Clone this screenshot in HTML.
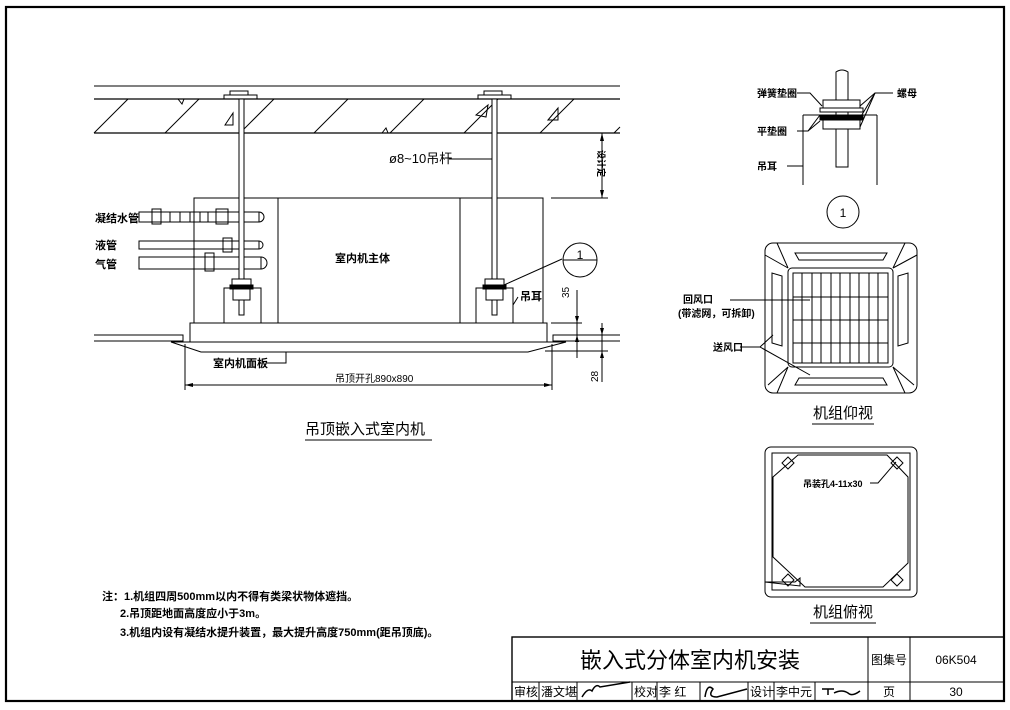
<!DOCTYPE html>
<html><head><meta charset="utf-8"><style>
html,body{margin:0;padding:0;background:#fff}
svg{display:block}
text{font-family:"Liberation Sans","Noto Sans CJK SC","WenQuanYi Zen Hei",sans-serif;fill:#000}
</style></head><body>
<svg width="1010" height="710" viewBox="0 0 1010 710" xmlns="http://www.w3.org/2000/svg">
<g fill="none" stroke="#000" stroke-width="1">
<rect x="6" y="7" width="998" height="694" stroke-width="2.2"/>
<!-- title block -->
<rect x="512" y="637" width="492" height="64" stroke-width="1.4"/>
<line x1="512" y1="682" x2="1004" y2="682"/>
<line x1="868" y1="637" x2="868" y2="701"/>
<line x1="910" y1="637" x2="910" y2="701"/>
<line x1="539" y1="682" x2="539" y2="701"/>
<line x1="577" y1="682" x2="577" y2="701"/>
<line x1="632" y1="682" x2="632" y2="701"/>
<line x1="657" y1="682" x2="657" y2="701"/>
<line x1="700" y1="682" x2="700" y2="701"/>
<line x1="748" y1="682" x2="748" y2="701"/>
<line x1="774" y1="682" x2="774" y2="701"/>
<line x1="815" y1="682" x2="815" y2="701"/>
<path d="M582 697 q6-10 10-6 q4-8 8-4 l30-5" stroke-width="1.5"/>
<path d="M705 697 q2-14 8-8 q-6 8 4 8 l30-8" stroke-width="1.5"/>
<path d="M822 689 h12 m-6 0 v6 m6-2 q8-4 14 0 q4 4 12-2" stroke-width="1.5"/>

<!-- slab -->
<line x1="94" y1="86" x2="620" y2="86"/>
<line x1="94" y1="99" x2="620" y2="99" stroke-width="1.3"/>
<line x1="94" y1="133" x2="620" y2="133" stroke-width="1.3"/>
<g>
<line x1="94" y1="133" x2="128" y2="99"/><line x1="165" y1="133" x2="199" y2="99"/>
<line x1="240" y1="133" x2="274" y2="99"/><line x1="314" y1="133" x2="348" y2="99"/>
<line x1="390" y1="133" x2="424" y2="99"/><line x1="464" y1="133" x2="498" y2="99"/>
<line x1="540" y1="133" x2="574" y2="99"/><line x1="614" y1="133" x2="620" y2="127"/>
<path d="M225 125 l8-12 v12z"/><path d="M476 115 l12-10 -2 12z"/><path d="M548 120 l10-12 v12z"/>
<path d="M178 99 l4 5 2-5"/><path d="M382 133 l4-5 2 5"/>
</g>
<rect x="224" y="95" width="33" height="4"/><rect x="230" y="91" width="18" height="4"/>
<rect x="478" y="95" width="33" height="4"/><rect x="484" y="91" width="18" height="4"/>
<!-- housing -->
<rect x="194" y="198" width="349" height="125"/>
<rect x="278" y="198" width="182" height="125"/>
<rect x="190" y="323" width="357" height="19"/>
<!-- ceiling -->
<polyline points="94,335 183,335 183,341 94,341"/>
<polyline points="620,335 553,335 553,341 620,341"/>
<polygon points="171,342 566,342 528,352 201,352"/>
<!-- pipes -->
<rect x="139" y="212" width="120" height="10"/>
<path d="M259 212 a5 5 0 0 1 0 10"/>
<rect x="152" y="209" width="9" height="15"/><rect x="216" y="209" width="12" height="15"/>
<line x1="170" y1="212" x2="170" y2="222"/><line x1="180" y1="212" x2="180" y2="222"/><line x1="190" y1="212" x2="190" y2="222"/><line x1="200" y1="212" x2="200" y2="222"/><line x1="208" y1="212" x2="208" y2="222"/>
<rect x="139" y="241" width="120" height="8"/><path d="M259 241 a4 4 0 0 1 0 8"/>
<rect x="223" y="238" width="9" height="14"/>
<rect x="139" y="257" width="122" height="12"/><path d="M261 257 a6 6 0 0 1 0 12"/>
<rect x="205" y="253" width="9" height="18"/>
<!-- rods -->
<rect x="239" y="99" width="5" height="216" fill="#fff"/>
<rect x="492" y="99" width="5" height="216" fill="#fff"/>
<!-- brackets -->
<rect x="224" y="288" width="37" height="35"/><rect x="476" y="288" width="37" height="35"/>
<g fill="#fff">
<rect x="232" y="279" width="19" height="6"/><rect x="230" y="285" width="23" height="4" fill="#000"/><rect x="233" y="289" width="17" height="11"/>
<rect x="485" y="279" width="19" height="6"/><rect x="483" y="285" width="23" height="4" fill="#000"/><rect x="486" y="289" width="17" height="11"/>
</g>
<!-- leaders/dims -->
<line x1="449" y1="159" x2="492" y2="159"/>
<circle cx="580" cy="260" r="17"/><line x1="563" y1="260" x2="597" y2="260"/>
<line x1="562" y1="259" x2="504" y2="285"/>
<polyline points="518,297 513,305 513,315"/>
<polyline points="286,352 286,363 267,363"/>
<line x1="185" y1="344" x2="185" y2="390"/><line x1="552" y1="344" x2="552" y2="390"/>
<line x1="185" y1="385" x2="552" y2="385"/>
<line x1="602" y1="133" x2="602" y2="198"/><line x1="551" y1="198" x2="608" y2="198"/>
<line x1="577" y1="290" x2="577" y2="358"/><line x1="551" y1="323" x2="582" y2="323"/>
<line x1="602" y1="323" x2="602" y2="382"/><line x1="545" y1="351" x2="608" y2="351"/>
<line x1="582" y1="335" x2="608" y2="335"/>
</g>
<g fill="#000">
<path d="M185 385 l8-2 v4z"/><path d="M552 385 l-8-2 v4z"/>
<path d="M602 133 l-2 8 h4z"/><path d="M602 198 l-2-8 h4z"/>
<path d="M577 323 l-2-7 h4z"/><path d="M577 335 l-2 7 h4z"/>
<path d="M602 335 l-2-7 h4z"/><path d="M602 351 l-2 7 h4z"/>
</g>
<g font-size="11" font-weight="bold">
<text x="389" y="163" font-size="13" font-weight="normal">ø8~10吊杆</text>
<text x="95" y="222">凝结水管</text>
<text x="95" y="249">液管</text>
<text x="95" y="268">气管</text>
<text x="335" y="262">室内机主体</text>
<text x="520" y="300">吊耳</text>
<text x="213" y="367">室内机面板</text>
<text x="335" y="382" font-size="10" font-weight="normal">吊顶开孔890x890</text>
<text x="580" y="259" font-size="12" font-weight="normal" text-anchor="middle">1</text>
<text x="0" y="0" font-size="9" transform="translate(598,150) rotate(90)">设计定</text>
<text x="0" y="0" font-size="10" font-weight="normal" transform="translate(569,298) rotate(-90)">35</text>
<text x="0" y="0" font-size="10" font-weight="normal" transform="translate(598,382) rotate(-90)">28</text>
</g>
<text x="305" y="434" font-size="15">吊顶嵌入式室内机</text>
<line x1="305" y1="440" x2="432" y2="440" stroke="#000"/>
<!-- notes -->
<g font-size="11" font-weight="bold">
<text x="102" y="600">注：1.机组四周500mm以内不得有类梁状物体遮挡。</text>
<text x="120" y="617">2.吊顶距地面高度应小于3m。</text>
<text x="120" y="636">3.机组内设有凝结水提升装置，最大提升高度750mm(距吊顶底)。</text>
</g>
<!-- title block text -->
<text x="690" y="668" font-size="22" text-anchor="middle">嵌入式分体室内机安装</text>
<text x="889" y="664" font-size="12" text-anchor="middle" font-family="Liberation Serif,Noto Serif CJK SC,serif">图集号</text>
<text x="956" y="664" font-size="12" text-anchor="middle" font-family="Liberation Serif,serif">06K504</text>
<g font-size="12" font-family="Liberation Serif,Noto Serif CJK SC,serif">
<text x="514" y="696">审核</text><text x="541" y="696">潘文堪</text>
<text x="634" y="696">校对</text><text x="659" y="696">李  红</text>
<text x="750" y="696">设计</text><text x="776" y="696">李中元</text>
<text x="889" y="696" text-anchor="middle">页</text>
<text x="956" y="696" text-anchor="middle">30</text>
</g>
<!-- detail 1 -->
<g fill="none" stroke="#000">
<path d="M836 167 v-95 q6-4 12 0 v95 z" fill="#fff"/>
<line x1="803" y1="115" x2="803" y2="185"/><line x1="877" y1="115" x2="877" y2="185"/>
<line x1="803" y1="115" x2="877" y2="115"/>
<rect x="823" y="100" width="37" height="8" fill="#fff"/>
<rect x="820" y="108" width="43" height="4" fill="#fff"/>
<rect x="820" y="116" width="43" height="4" fill="#000"/>
<rect x="823" y="120" width="37" height="9" fill="#fff"/>
<polyline points="797,93 810,93 822,106"/>
<polyline points="797,131 808,131 820,115"/><line x1="808" y1="131" x2="820" y2="121"/>
<polyline points="893,93 875,93 860,106"/><line x1="875" y1="93" x2="860" y2="118"/><line x1="875" y1="93" x2="860" y2="127"/>
<line x1="787" y1="166" x2="803" y2="166"/>
<circle cx="843" cy="212" r="16"/>
<!-- bottom view -->
<rect x="765" y="243" width="152" height="150" rx="8"/>
<rect x="788" y="268" width="105" height="99" rx="4"/>
<rect x="793" y="273" width="95" height="90"/>
<line x1="765" y1="255" x2="788" y2="268"/><line x1="917" y1="255" x2="893" y2="268"/>
<line x1="768" y1="385" x2="788" y2="367"/><line x1="914" y1="385" x2="893" y2="367"/>
<line x1="777" y1="243" x2="788" y2="268"/><line x1="905" y1="243" x2="893" y2="268"/>
<line x1="777" y1="393" x2="788" y2="367"/><line x1="905" y1="393" x2="893" y2="367"/>
<path d="M795 253 h92 l-4 7 h-84z"/><path d="M795 385 h92 l-4-7 h-84z"/>
<path d="M772 273 v70 l10 3 v-70z"/><path d="M908 273 v70 l-10 3 v-70z"/>
<line x1="802" y1="273" x2="802" y2="363"/><line x1="812" y1="273" x2="812" y2="363"/><line x1="821" y1="273" x2="821" y2="363"/><line x1="831" y1="273" x2="831" y2="363"/><line x1="840" y1="273" x2="840" y2="363"/><line x1="850" y1="273" x2="850" y2="363"/><line x1="859" y1="273" x2="859" y2="363"/><line x1="869" y1="273" x2="869" y2="363"/><line x1="878" y1="273" x2="878" y2="363"/>
<line x1="793" y1="297" x2="888" y2="297"/><line x1="793" y1="320" x2="888" y2="320"/><line x1="793" y1="343" x2="888" y2="343"/>
<line x1="730" y1="300" x2="810" y2="300"/>
<polyline points="740,347 760,347 773,335"/><line x1="760" y1="347" x2="810" y2="375"/>
<!-- top view -->
<rect x="765" y="447" width="152" height="150" rx="6"/>
<rect x="772" y="453" width="138" height="137"/>
<polygon points="798,455 887,455 908,477 908,563 883,587 805,587 773,557 773,477"/>
<path d="M782 463 l6-6 6 6 -6 6z M891 463 l6-6 6 6 -6 6z M782 580 l6-6 6 6 -6 6z M891 580 l6-6 6 6 -6 6z"/>
<polyline points="870,483 878,483 896,462"/>
<path d="M765 582 h30 l5 -4 v8 z" />
</g>
<g font-size="10" font-weight="bold">
<text x="757" y="97">弹簧垫圈</text>
<text x="897" y="97">螺母</text>
<text x="757" y="135">平垫圈</text>
<text x="757" y="170">吊耳</text>
<text x="683" y="303">回风口</text>
<text x="678" y="317">(带滤网，可拆卸)</text>
<text x="713" y="351">送风口</text>
<text x="803" y="487" font-size="9">吊装孔4-11x30</text>
</g>
<text x="843" y="217" font-size="12" text-anchor="middle">1</text>
<text x="843" y="418" font-size="15" text-anchor="middle">机组仰视</text>
<line x1="812" y1="424" x2="874" y2="424" stroke="#000"/>
<text x="843" y="617" font-size="15" text-anchor="middle">机组俯视</text>
<line x1="810" y1="623" x2="876" y2="623" stroke="#000"/>
</svg>
</body></html>
